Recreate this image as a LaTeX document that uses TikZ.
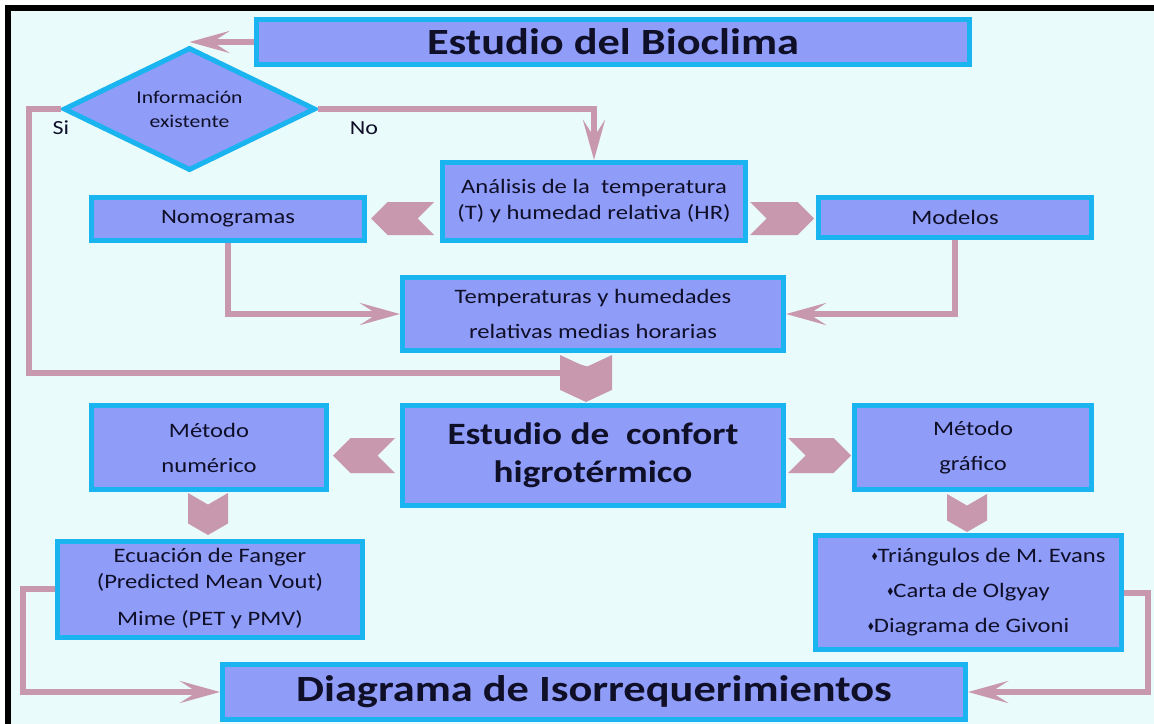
\documentclass[tikz,border=0pt]{standalone}
\usepackage{amssymb}
\usepackage{fontspec}
\setmainfont{Carlito}[FakeStretch=1.2]
\usepackage{tikz}
\usetikzlibrary{positioning,shapes.geometric,shapes.symbols,arrows.meta}

\definecolor{fondo}{RGB}{234,251,251}
\definecolor{cajafondo}{RGB}{143,156,248}
\definecolor{cajaborde}{RGB}{26,180,240}
\definecolor{flechacol}{RGB}{200,152,174}
\definecolor{textocol}{RGB}{15,15,40}

\newcommand{\punto}{\raisebox{0.3ex}{\scalebox{0.45}{$\blacklozenge$}}}

\begin{document}
\begin{tikzpicture}[x=1pt, y=-1pt,
    caja/.style={draw=cajaborde, line width=5pt, fill=cajafondo, align=center, inner sep=0pt, text=textocol},
    titulo/.style={font=\fontsize{37}{40}\selectfont\bfseries},
    normal/.style={font=\fontsize{20.5}{35}\selectfont},
    flecha/.style={draw=flechacol, line width=6pt, -{Stealth[length=40pt,width=22pt,inset=17pt]}},
    galon/.style={shape=signal, fill=flechacol, inner sep=0pt, signal pointer angle=90, signal to=east, signal from=west}]
    \useasboundingbox (0,0) rectangle (1154,723);
    \fill[white] (0,0) rectangle (1154,723);
    \fill[fondo] (8,8) rectangle (1160,730);
    \draw[line width=6pt] (8,8) rectangle (1170,740);

    \node[caja, titulo, minimum width=713pt, minimum height=45pt] (bio) at (613,42) {Estudio del Bioclima};
    \node[caja, shape=diamond, aspect=2, minimum width=252pt, minimum height=123pt, font=\fontsize{18}{24}\selectfont] (info) at (189.5,109) {Información\\existente};
    \node[font=\fontsize{20}{24}\selectfont, text=textocol] (si) at (61,128) {Si};
    \node[font=\fontsize{20}{24}\selectfont, text=textocol] (no) at (364,128) {No};

    \node[caja, font=\fontsize{20.5}{26}\selectfont, minimum width=303pt, minimum height=78pt] (ana) at (594,201.5) {Análisis de la\ \ temperatura\\(T) y humedad relativa (HR)};
    \node[caja, normal, minimum width=273pt, minimum height=43pt] (nomo) at (228,219) {Nomogramas};
    \node[caja, normal, minimum width=273pt, minimum height=40pt] (mod) at (955,217.5) {Modelos};
    \node[caja, normal, minimum width=381pt, minimum height=73pt] (temp) at (593,314) {Temperaturas y humedades\\relativas medias horarias};

    \node[caja, font=\fontsize{31}{38}\selectfont\bfseries, minimum width=381pt, minimum height=100pt] (conf) at (593,455.5) {Estudio de\ \ confort\\higrotérmico};
    \node[caja, normal, minimum width=235pt, minimum height=84pt] (num) at (209,447.5) {Método\\numérico};
    \node[caja, normal, minimum width=237pt, minimum height=84pt] (graf) at (973,447.5) {Método\\gráfico};
    \node[caja, font=\fontsize{20.5}{26}\selectfont, minimum width=305pt, minimum height=96pt] (fang) at (210,589) {Ecuación de Fanger\\(Predicted Mean Vout)\\[11pt]Mime (PET y PMV)};
    \node[caja, normal, minimum width=306pt, minimum height=114pt] (tri) at (968.5,592.5) {\hspace*{40pt}\punto Triángulos de M. Evans\\\punto Carta de Olgyay\\\punto Diagrama de Givoni};
    \node[caja, titulo, minimum width=743pt, minimum height=55pt] (iso) at (594,692) {Diagrama de Isorrequerimientos};

    % galones entre cajas
    \node[galon, rotate=180, minimum width=63pt, minimum height=33pt] (g1) at (402.5,218.5) {};
    \node[galon, minimum width=64pt, minimum height=33pt] (g2) at (782,218.5) {};
    \node[galon, rotate=-90, signal pointer angle=130, minimum width=47pt, minimum height=52pt] (g3) at (586,378.5) {};
    \node[galon, rotate=180, minimum width=62pt, minimum height=35pt] (g4) at (364,455.5) {};
    \node[galon, minimum width=63pt, minimum height=35pt] (g5) at (819.5,455.5) {};
    \node[galon, rotate=-90, signal pointer angle=120, minimum width=42pt, minimum height=40pt] (g6) at (208,514) {};
    \node[galon, rotate=-90, signal pointer angle=120, minimum width=38pt, minimum height=40pt] (g7) at (967,513) {};

    \draw[flecha] (bio.west) -- (bio.west -| info.north);
    \draw[flecha] (info.west) -- ++(-32,0) |- ([xshift=-3pt,yshift=6pt]g3.north);
    \draw[flecha] (info.east) -| (ana.north);
    \draw[flecha] (nomo.south) |- (temp.west);
    \draw[flecha] (mod.south) |- (temp.east);
    \draw[flecha] (fang.west) -- ++(-32,0) |- (iso.west);
    \draw[flecha] (tri.east) -- ++(24,0) |- (iso.east);
\end{tikzpicture}
\end{document}
